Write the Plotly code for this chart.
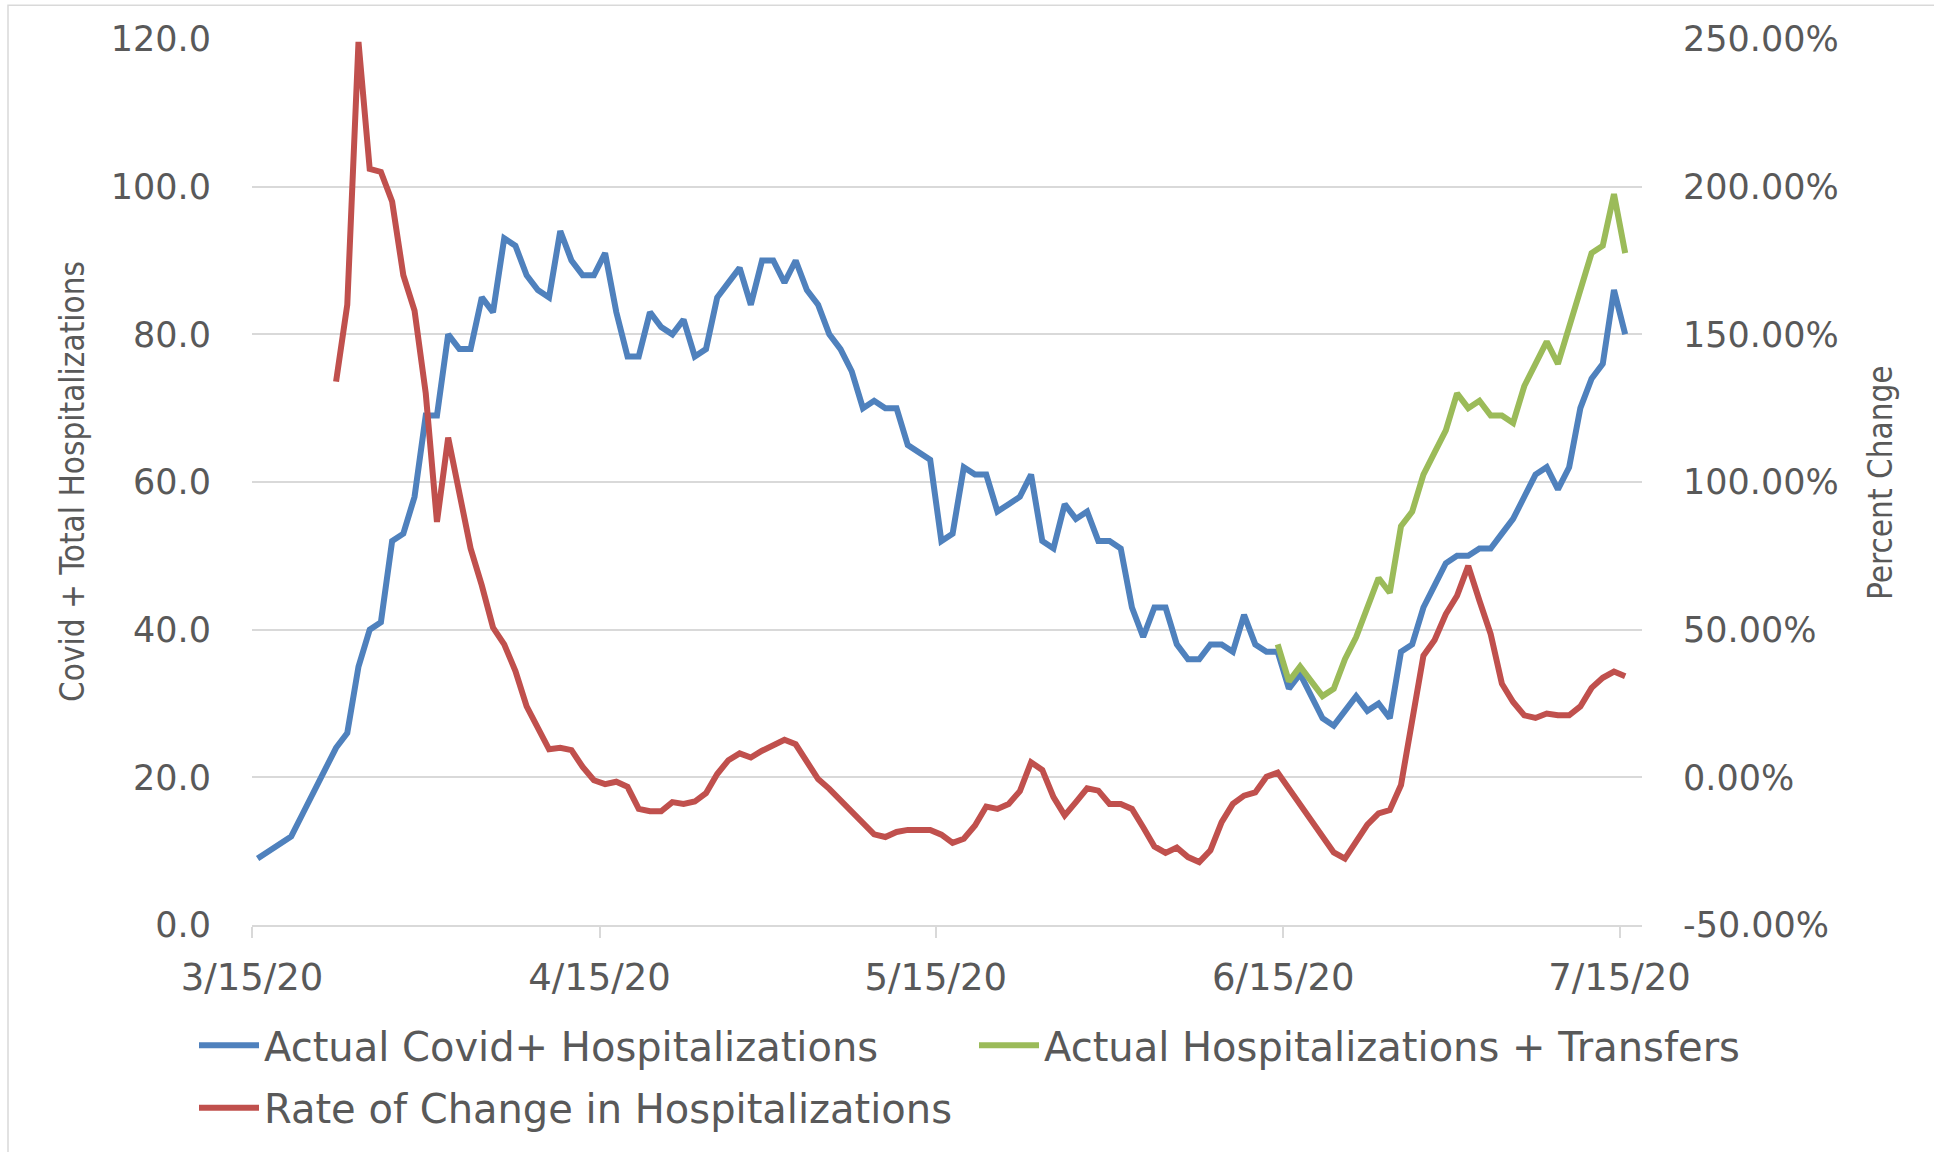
import plotly.graph_objects as go
import pandas as pd

# ---------------- data ----------------
start_date = "2020-03-15"
n_days = 123
dates = pd.date_range(start_date, periods=n_days, freq="D") + pd.Timedelta(hours=12)

covid_hosp = [
    9, 10, 11, 12, 15, 18, 21, 24, 26, 35,
    40, 41, 52, 53, 58, 69, 69, 80, 78, 78,
    85, 83, 93, 92, 88, 86, 85, 94, 90, 88,
    88, 91, 83, 77, 77, 83, 81, 80, 82, 77,
    78, 85, 87, 89, 84, 90, 90, 87, 90, 86,
    84, 80, 78, 75, 70, 71, 70, 70, 65, 64,
    63, 52, 53, 62, 61, 61, 56, 57, 58, 61,
    52, 51, 57, 55, 56, 52, 52, 51, 43, 39,
    43, 43, 38, 36, 36, 38, 38, 37, 42, 38,
    37, 37, 32, 34, 31, 28, 27, 29, 31, 29,
    30, 28, 37, 38, 43, 46, 49, 50, 50, 51,
    51, 53, 55, 58, 61, 62, 59, 62, 70, 74,
    76, 86, 80,
]

transfers_start = 91  # 6/14/20
hosp_transfers = [
    38, 33, 35, 33, 31, 32, 36, 39, 43, 47,
    45, 54, 56, 61, 64, 67, 72, 70, 71, 69,
    69, 68, 73, 76, 79, 76, 81, 86, 91, 92,
    99, 91,
]

rate_start = 7  # 3/22/20
rate_change = [
    134, 160, 249, 206, 205, 195, 170, 158, 130, 86.5,
    115, 95, 77.5, 65, 50.7, 45, 36, 24, 16.5, 9.5,
    10, 9.2, 3.5, -1, -2.3, -1.5, -3.2, -10.7, -11.5, -11.5,
    -8.4, -9.0, -8.2, -5.4, 1.1, 5.8, 8.1, 6.7, 9.0, 10.9,
    12.7, 11.2, 5.1, -0.6, -3.9, -7.9, -11.5, -16.0, -19.3, -20.2,
    -18.5, -17.8, -17.8, -17.8, -19.4, -22.2, -20.8, -16.3, -9.9, -10.7,
    -9.0, -4.7, 5.1, 2.5, -6.7, -12.9, -8.4, -3.7, -4.5, -9.0,
    -9.0, -10.7, -16.9, -23.4, -25.6, -23.8, -27.0, -28.7, -24.7, -15.2,
    -9.0, -6.2, -5.1, 0.2, 1.6, -3.8, -9.3, -14.7, -20.2, -25.4,
    -27.5, -21.7, -16.0, -12.2, -11.1, -2.6, 18.2, 41.2, 46.5, 55.3,
    61.5, 71.6, 59.8, 48.5, 31.7, 25.5, 21.0, 20.1, 21.6, 21.0,
    21.0, 24.0, 30.3, 33.7, 35.8, 34.2,
]

x_tick_dates = ["2020-03-15", "2020-04-15", "2020-05-15", "2020-06-15", "2020-07-15"]
x_tick_labels = ["3/15/20", "4/15/20", "5/15/20", "6/15/20", "7/15/20"]

pct_tick_vals = [-50, 0, 50, 100, 150, 200, 250]
pct_tick_labels = ["-50.00%", "0.00%", "50.00%", "100.00%", "150.00%", "200.00%", "250.00%"]

series_names = [
    "Actual Covid+ Hospitalizations",
    "Actual Hospitalizations + Transfers",
    "Rate of Change in Hospitalizations",
]
left_title = "Covid + Total Hospitalizations"
right_title = "Percent Change"

# ---------------- style ----------------
BLUE = "#4F81BD"
GREEN = "#9BBB59"
RED = "#C0504D"
TXT = "#595959"
GRID = "#D9D9D9"
LW = 6

W, H = 1934, 1152
ML, MR, MT, MB = 252, 292, 39, 221
PW = W - ML - MR
PH = H - MT - MB


def px_x(X):
    return (X - ML) / PW


def px_y(Y):
    return (H - MB - Y) / PH


fig = go.Figure()
fig.add_trace(go.Scatter(
    x=dates, y=covid_hosp, mode="lines", name=series_names[0],
    line=dict(color=BLUE, width=LW), legend="legend", showlegend=True))
fig.add_trace(go.Scatter(
    x=dates[transfers_start:], y=hosp_transfers, mode="lines", name=series_names[1],
    line=dict(color=GREEN, width=LW), legend="legend2", showlegend=True))
fig.add_trace(go.Scatter(
    x=dates[rate_start:], y=rate_change, mode="lines", name=series_names[2],
    line=dict(color=RED, width=LW), yaxis="y2", legend="legend3", showlegend=True))

tick_font = dict(family="DejaVu Sans", size=35, color=TXT)
legend_font = dict(family="DejaVu Sans", size=40, color=TXT)
title_font = dict(family="Liberation Sans Narrow, DejaVu Sans Condensed", size=33, color=TXT)

leg_common = dict(orientation="h", xanchor="left", yanchor="middle",
                  font=legend_font, itemwidth=60, bgcolor="rgba(0,0,0,0)")

fig.update_layout(
    width=W, height=H, autosize=False, showlegend=True,
    margin=dict(l=ML, r=MR, t=MT, b=MB, pad=0),
    paper_bgcolor="white", plot_bgcolor="white",
    xaxis=dict(
        type="date", range=["2020-03-15", "2020-07-17"],
        tickvals=x_tick_dates, ticktext=x_tick_labels,
        ticks="outside", ticklen=11, tickwidth=2, tickcolor=GRID,
        showline=True, linecolor=GRID, linewidth=2,
        showgrid=False, zeroline=False,
        tickfont=dict(family="DejaVu Sans", size=37, color=TXT),
        ticklabelstandoff=8,
    ),
    yaxis=dict(
        range=[0, 120], dtick=20, tick0=0, tickformat=".1f",
        showgrid=True, gridcolor=GRID, gridwidth=1.5,
        zeroline=False, showline=False, ticks="",
        tickfont=tick_font, ticklabelstandoff=40,
    ),
    yaxis2=dict(
        overlaying="y", side="right",
        range=[-50, 250], tickvals=pct_tick_vals, ticktext=pct_tick_labels,
        showgrid=False, zeroline=False, showline=False, ticks="",
        tickfont=tick_font, ticklabelstandoff=40,
    ),
    legend=dict(x=px_x(194), y=px_y(1052), **leg_common),
    legend2=dict(x=px_x(974), y=px_y(1052), **leg_common),
    legend3=dict(x=px_x(194), y=px_y(1115), **leg_common),
    annotations=[
        dict(text=left_title, xref="paper", yref="paper", x=px_x(72), y=px_y(485),
             xanchor="center", yanchor="middle", textangle=-90, showarrow=False, font=title_font),
        dict(text=right_title, xref="paper", yref="paper", x=px_x(1880), y=px_y(485),
             xanchor="center", yanchor="middle", textangle=-90, showarrow=False, font=title_font),
    ],
    shapes=[
        dict(type="rect", xref="paper", yref="paper",
             x0=px_x(8), x1=px_x(1960), y0=px_y(1180), y1=px_y(5),
             line=dict(color=GRID, width=1.5), fillcolor="rgba(0,0,0,0)", layer="below"),
    ],
)

fig.write_html("out.html", config={"displayModeBar": False},
               post_script="document.body.style.margin='0px';")
